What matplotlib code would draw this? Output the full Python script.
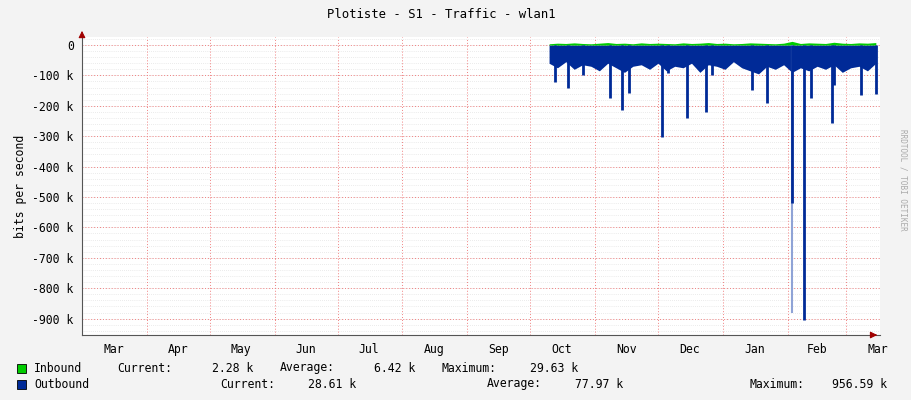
import matplotlib
matplotlib.use("Agg")
import matplotlib.pyplot as plt
import numpy as np

# x in days from Mar 1
month_starts = [31, 61, 92, 122, 153, 184, 214, 245, 275, 306, 337, 365]
month_labels = ["Mar", "Apr", "May", "Jun", "Jul", "Aug", "Sep", "Oct", "Nov", "Dec", "Jan", "Feb", "Mar"]
label_pos = [15, 46, 76, 107, 137, 168, 199, 229, 260, 290, 321, 351, 380]

base_days = list(range(223, 383, 4))
outbound_base = [-60, -75, -55, -80, -65, -70, -85, -60, -75, -90, -70, -65, -80, -60, -85,
                 -70, -75, -60, -90, -65, -70, -80, -55, -75, -85, -95, -70, -80, -65, -90,
                 -75, -85, -70, -80, -65, -90, -75, -70, -85, -60]
inbound_base = [4, 6, 5, 7, 5, 4, 6, 8, 5, 6, 4, 7, 5, 6, 5, 4, 7, 5, 6, 8,
                5, 6, 4, 5, 7, 6, 5, 4, 6, 12, 5, 7, 6, 5, 9, 6, 5, 7, 6, 8]

spike_days = [226, 232, 239, 252, 258, 261, 277, 280, 289, 298, 301, 320, 327, 339, 344.5, 348, 358, 359, 372, 379]
spike_vals = [-122, -141, -100, -175, -213, -158, -302, -93, -240, -220, -100, -148, -190, -520, -905, -175, -257, -130, -165, -160]
faint_days = [339]
faint_vals = [-880]

BLUE = "#002a97"
GREEN = "#00cc00"
FS = 8.3

plt.rcParams["font.family"] = "DejaVu Sans Mono"
fig = plt.figure(figsize=(9.11, 4.0), dpi=100, facecolor="#f3f3f3")
ax = fig.add_axes([82 / 911, 1 - 335 / 400, (880 - 82) / 911, (335 - 37) / 400])
ax.set_facecolor("white")

bd = np.array(base_days)
ax.fill_between(bd, 0, np.array(outbound_base) * 1000, color=BLUE, lw=0)
ax.fill_between(bd, 0, np.array(inbound_base) * 1000, color=GREEN, lw=0)
ax.vlines(faint_days, 0, np.array(faint_vals) * 1000, color="#8fa3d6", lw=1.5)
ax.vlines(spike_days, 0, np.array(spike_vals) * 1000, color=BLUE, lw=2)

ax.set_xlim(0, 381)
ax.set_ylim(-954000, 26300)

for v in range(-940000, 20001, 20000):
    ax.axhline(v, color="#d8d8d8", lw=0.5, ls=(0, (1, 2)), zorder=0)
for d in month_starts:
    ax.axvline(d, color="#f08080", lw=0.7, ls=(0, (1, 2)), zorder=0.5)
for v in range(-900000, 1, 100000):
    ax.axhline(v, color="#f08080", lw=0.7, ls=(0, (1, 2)), zorder=0.5)

yt = list(range(-900000, 1, 100000))
ax.set_yticks(yt)
ax.set_yticklabels(["%d k" % (v // 1000) if v else "0" for v in yt], fontsize=FS)
ax.set_xticks(label_pos)
ax.set_xticklabels(month_labels, fontsize=FS)
ax.tick_params(length=0, pad=6)
for s in ["top", "right"]:
    ax.spines[s].set_visible(False)
for s in ["left", "bottom"]:
    ax.spines[s].set_color("#555555")
ax.annotate("", xy=(1.0, 0), xytext=(0.99, 0), xycoords="axes fraction",
            arrowprops=dict(arrowstyle="-|>", color="#a00000", lw=0.8))
ax.annotate("", xy=(0, 1.03), xytext=(0, 1.0), xycoords="axes fraction",
            arrowprops=dict(arrowstyle="-|>", color="#a00000", lw=0.8))
ax.set_ylabel("bits per second", fontsize=FS)

fig.text(441 / 911, 1 - 14 / 400, "Plotiste - S1 - Traffic - wlan1", ha="center", va="center", fontsize=8.8)
fig.text(903 / 911, 0.55, "RRDTOOL / TOBI OETIKER", rotation=270, ha="center", va="center",
         fontsize=5.5, color="#aaaaaa")

fig.patches.append(plt.Rectangle((17 / 911, 1 - 373 / 400), 9 / 911, 9 / 400, transform=fig.transFigure,
                                 facecolor=GREEN, edgecolor="black", lw=0.6))
fig.patches.append(plt.Rectangle((17 / 911, 1 - 389 / 400), 9 / 911, 9 / 400, transform=fig.transFigure,
                                 facecolor=BLUE, edgecolor="black", lw=0.6))
row1 = 1 - 368 / 400
row2 = 1 - 384 / 400
for x, t, r in [(34, "Inbound", row1), (117, "Current:", row1), (212, "2.28 k", row1),
                (280, "Average:", row1), (374, "6.42 k", row1), (441, "Maximum:", row1),
                (530, "29.63 k", row1), (34, "Outbound", row2), (220, "Current:", row2),
                (308, "28.61 k", row2), (487, "Average:", row2), (575, "77.97 k", row2),
                (750, "Maximum:", row2), (832, "956.59 k", row2)]:
    fig.text(x / 911, r, t, ha="left", va="center", fontsize=FS)

fig.savefig("out.png", dpi=100, facecolor=fig.get_facecolor())
